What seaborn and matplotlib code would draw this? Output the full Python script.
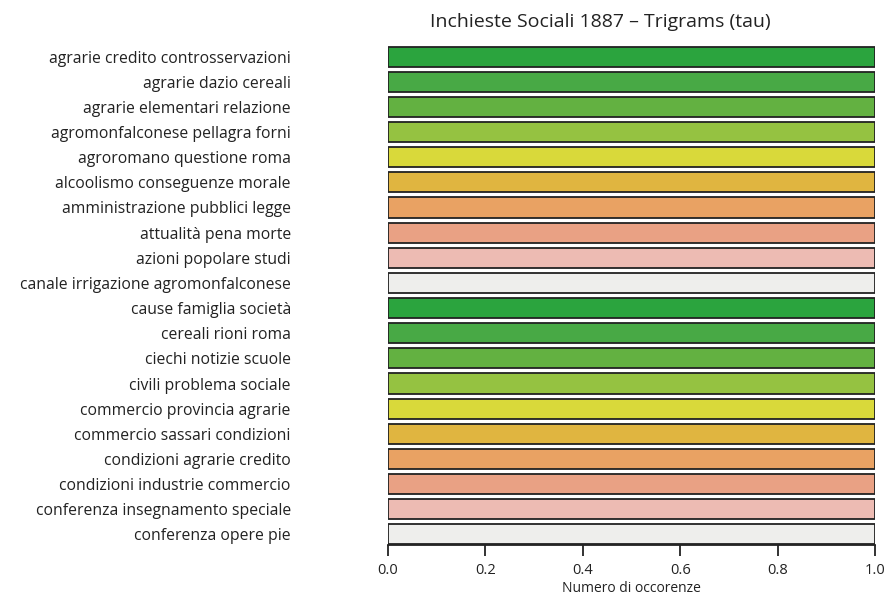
import matplotlib
matplotlib.use("Agg")
import matplotlib.pyplot as plt
import seaborn as sns
import pandas as pd

categories = [
    "agrarie credito controsservazioni",
    "agrarie dazio cereali",
    "agrarie elementari relazione",
    "agromonfalconese pellagra forni",
    "agroromano questione roma",
    "alcoolismo conseguenze morale",
    "amministrazione pubblici legge",
    "attualità pena morte",
    "azioni popolare studi",
    "canale irrigazione agromonfalconese",
    "cause famiglia società",
    "cereali rioni roma",
    "ciechi notizie scuole",
    "civili problema sociale",
    "commercio provincia agrarie",
    "commercio sassari condizioni",
    "condizioni agrarie credito",
    "condizioni industrie commercio",
    "conferenza insegnamento speciale",
    "conferenza opere pie",
]
values = [1.0] * 20
palette10 = ["#2ba43e", "#48a945", "#63b141", "#95c241", "#d9d93a",
             "#e0b540", "#e9a263", "#e9a184", "#edbbb3", "#eeeeec"]
colors = [palette10[i % 10] for i in range(len(categories))]
x_ticks = [0.0, 0.2, 0.4, 0.6, 0.8, 1.0]
x_tick_labels = ["0.0", "0.2", "0.4", "0.6", "0.8", "1.0"]

sns.set_theme(style="white")
plt.rcParams["font.family"] = ["Open Sans", "DejaVu Sans"]

df = pd.DataFrame({"cat": categories, "val": values})

fig = plt.figure(figsize=(8.87, 5.97), dpi=100)
ax = fig.add_axes([388/887, 1-545/597, (875-388)/887, (545-46)/597])
sns.barplot(data=df, x="val", y="cat", hue="cat", palette=colors,
            saturation=1, orient="h", width=0.8, edgecolor="#222222",
            linewidth=1.3, legend=False, ax=ax)
ax.set_xlim(0, 1)
ax.set_ylim(19.42, -0.42)
for s in ["top", "right", "left"]:
    ax.spines[s].set_visible(False)
ax.spines["bottom"].set_color("#222222")
ax.spines["bottom"].set_linewidth(1.3)
ax.set_xticks(x_ticks)
ax.set_xticklabels(x_tick_labels)
ax.tick_params(axis="x", bottom=True, length=8, width=1.3, color="#222222",
               pad=5, labelsize=10.5, labelcolor="#222222")
ax.tick_params(axis="y", left=False, pad=64, labelsize=11.3, labelcolor="#222222")
ax.set_ylabel("")
ax.set_xlabel("Numero di occorenze", fontsize=10, color="#222222", va="center")
ax.xaxis.set_label_coords(0.5, -44/499)
fig.text(600/887, 1-22/597, "Inchieste Sociali 1887 \u2013 Trigrams (tau)",
         fontsize=14, ha="center", va="center", color="#222222")

fig.savefig("out.png", dpi=100)
